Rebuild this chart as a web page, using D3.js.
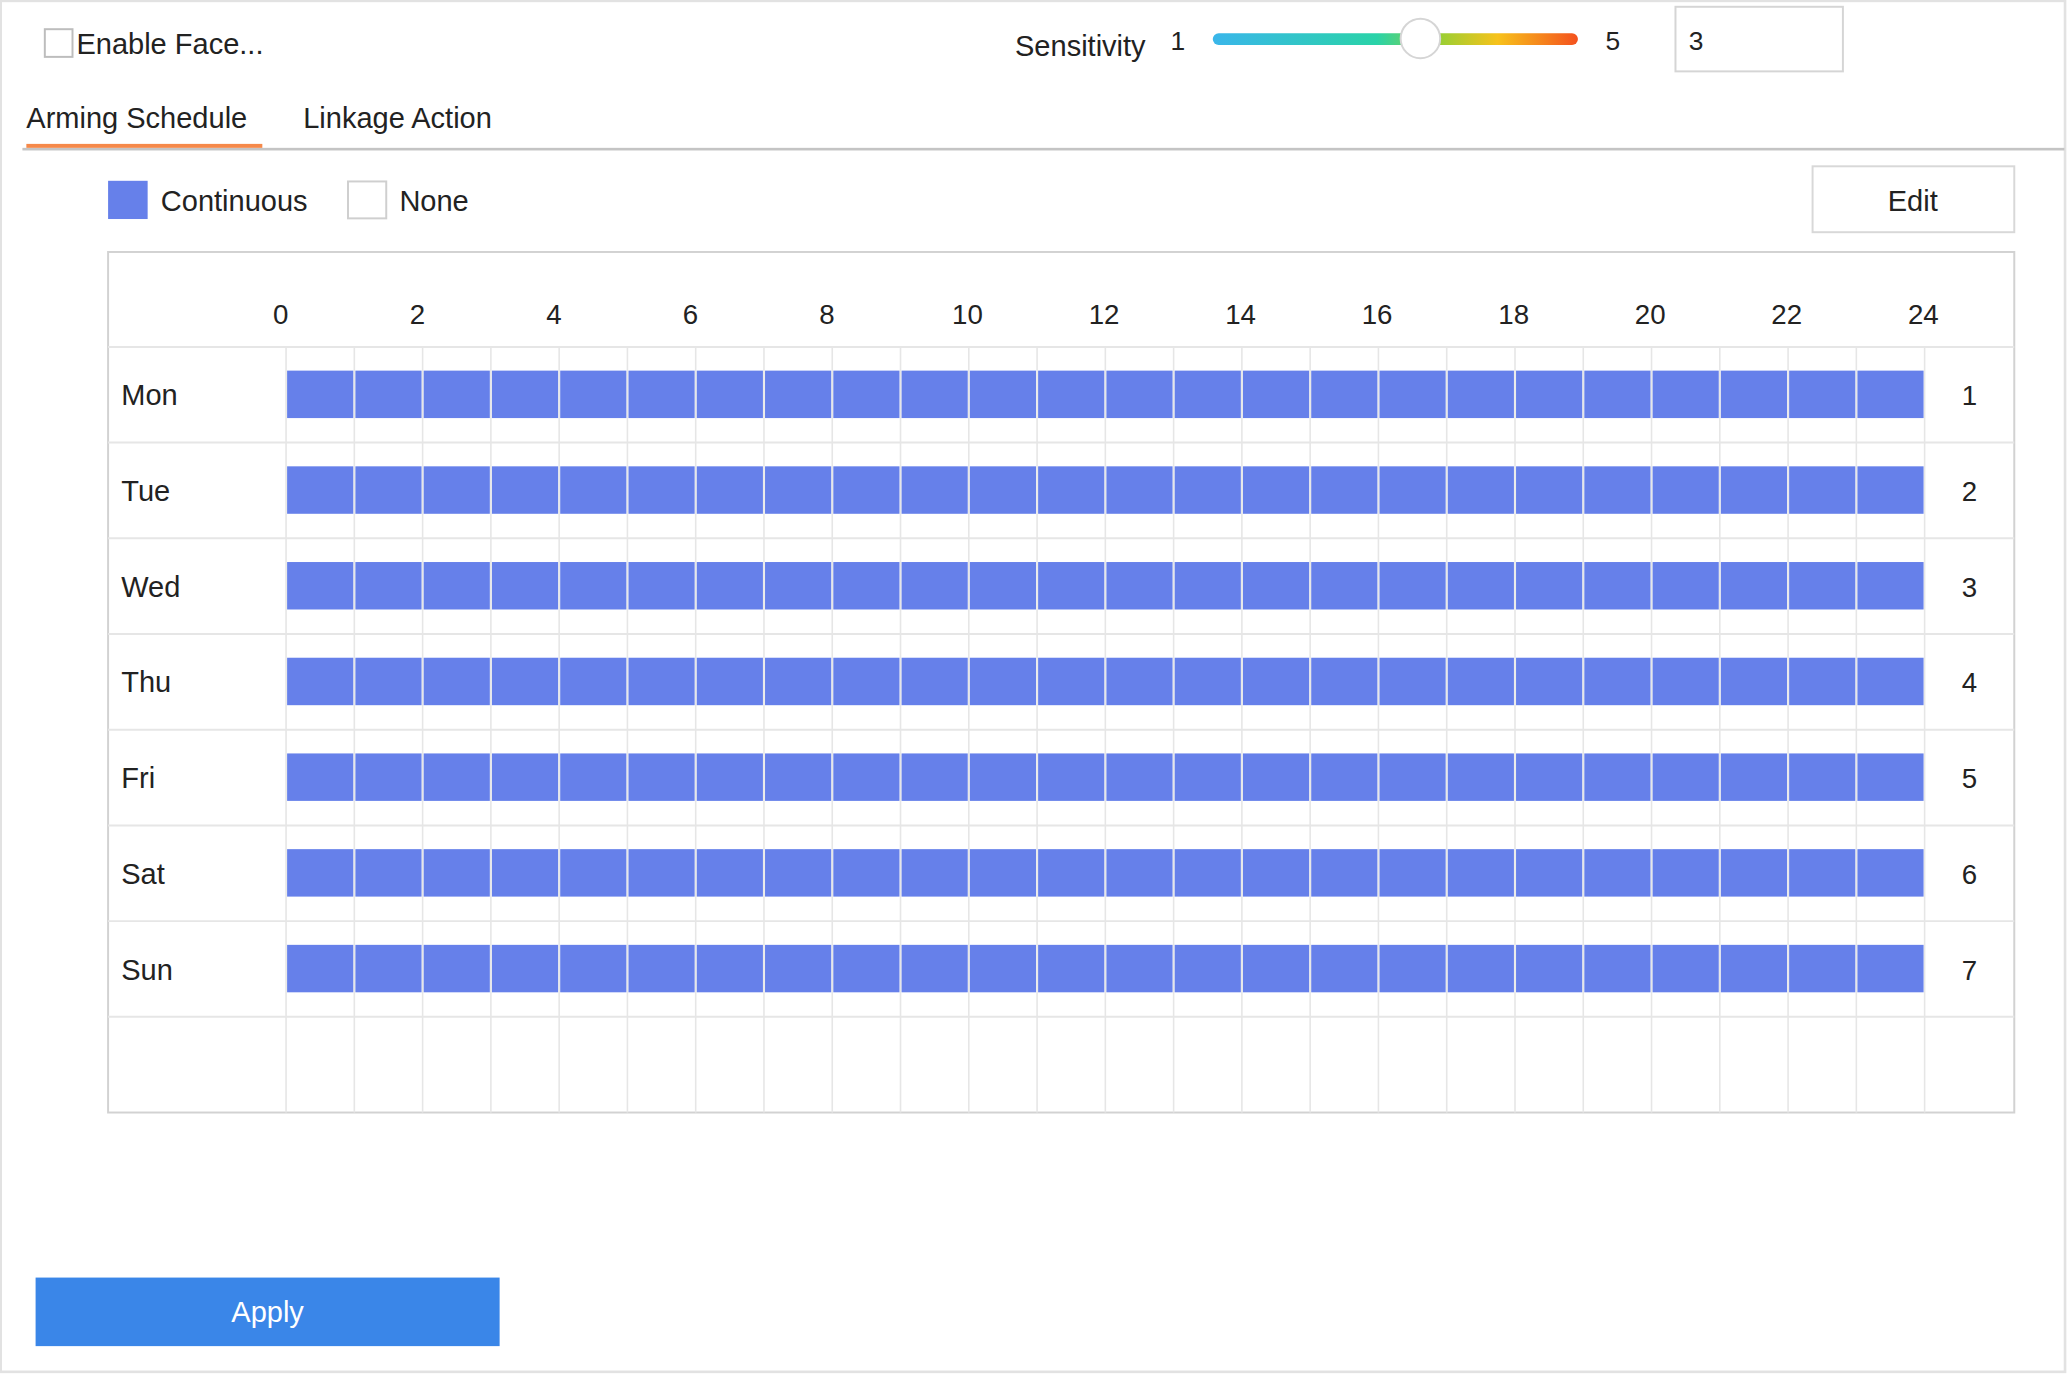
<!DOCTYPE html>
<html>
<head>
<meta charset="utf-8">
<script src="https://cdn.jsdelivr.net/npm/d3@7"></script>
<style>
  html, body { margin: 0; padding: 0; background: #fff; }
  svg { display: block; font-family: "Liberation Sans", Arial, sans-serif; }
</style>
</head>
<body>
<svg id="chart" width="2067" height="1374" viewBox="0 0 1568 1042"></svg>
<script>
// schedule data
const days = ["Mon", "Tue", "Wed", "Thu", "Fri", "Sat", "Sun"];
const rowNumbers = [1, 2, 3, 4, 5, 6, 7];
const hourTicks = [0, 2, 4, 6, 8, 10, 12, 14, 16, 18, 20, 22, 24];
// continuous recording segments per day [startHour, endHour]
const segments = [
  [[0, 24]], [[0, 24]], [[0, 24]], [[0, 24]], [[0, 24]], [[0, 24]], [[0, 24]]
];
const sensitivity = 3;
const sensMin = 1, sensMax = 5;

const blue = "#6680ea";
const svg = d3.select("#chart");

// frame
svg.append("rect").attr("x", 0.5).attr("y", 0.5).attr("width", 1566).attr("height", 1040)
  .attr("fill", "#fff").attr("stroke", "#e2e2e2").attr("stroke-width", 2);

// header: enable checkbox
svg.append("rect").attr("x", 34).attr("y", 22).attr("width", 21).attr("height", 21)
  .attr("fill", "#fff").attr("stroke", "#bdbdbd").attr("stroke-width", 1.5);
svg.append("text").attr("x", 58).attr("y", 41).attr("font-size", 22).attr("fill", "#222").text("Enable Face...");

// sensitivity slider
svg.append("text").attr("x", 770).attr("y", 42).attr("font-size", 22).attr("fill", "#222").text("Sensitivity");
svg.append("text").attr("x", 888).attr("y", 38).attr("font-size", 20).attr("fill", "#222").text(sensMin);
svg.append("text").attr("x", 1218).attr("y", 38).attr("font-size", 20).attr("fill", "#222").text(sensMax);

const defs = svg.append("defs");
const grad = defs.append("linearGradient").attr("id", "sens");
[["0%", "#3ab6ea"], ["45%", "#2ad3a8"], ["62%", "#98cf34"], ["78%", "#f7c21b"], ["100%", "#f4511e"]]
  .forEach(([o, c]) => grad.append("stop").attr("offset", o).attr("stop-color", c));
const sx = d3.scaleLinear().domain([sensMin, sensMax]).range([920, 1197]);
svg.append("rect").attr("x", sx(sensMin)).attr("y", 25).attr("width", sx(sensMax) - sx(sensMin)).attr("height", 9)
  .attr("rx", 4.5).attr("fill", "url(#sens)");
svg.append("circle").attr("cx", sx(sensitivity) + 19).attr("cy", 29).attr("r", 15)
  .attr("fill", "#fff").attr("stroke", "#d5d5d5").attr("stroke-width", 1.5);
svg.append("rect").attr("x", 1271).attr("y", 5).attr("width", 127).attr("height", 49)
  .attr("fill", "#fff").attr("stroke", "#d5d5d5").attr("stroke-width", 1.5);
svg.append("text").attr("x", 1281).attr("y", 38).attr("font-size", 20).attr("fill", "#222").text(sensitivity);

// tabs
svg.append("text").attr("x", 20).attr("y", 97).attr("font-size", 22).attr("fill", "#222").text("Arming Schedule");
svg.append("text").attr("x", 230).attr("y", 97).attr("font-size", 22).attr("fill", "#222").text("Linkage Action");
svg.append("rect").attr("x", 17).attr("y", 112).attr("width", 1549).attr("height", 2).attr("fill", "#c4c4c4");
svg.append("rect").attr("x", 20).attr("y", 109).attr("width", 179).attr("height", 3).attr("fill", "#f5894a");

// legend
svg.append("rect").attr("x", 82).attr("y", 137).attr("width", 30).attr("height", 29).attr("fill", blue);
svg.append("text").attr("x", 122).attr("y", 160).attr("font-size", 22).attr("fill", "#222").text("Continuous");
svg.append("rect").attr("x", 264).attr("y", 137.5).attr("width", 29).attr("height", 28)
  .attr("fill", "#fff").attr("stroke", "#cfcfcf").attr("stroke-width", 1.5);
svg.append("text").attr("x", 303).attr("y", 160).attr("font-size", 22).attr("fill", "#222").text("None");

// edit button
svg.append("rect").attr("x", 1375).attr("y", 126).attr("width", 153).attr("height", 50)
  .attr("fill", "#fff").attr("stroke", "#d8d8d8").attr("stroke-width", 1.5);
svg.append("text").attr("x", 1451).attr("y", 160).attr("text-anchor", "middle").attr("font-size", 22).attr("fill", "#222").text("Edit");

// schedule grid
const gridTop = 263, rowH = 72.6, gridBottom = gridTop + rowH * 8;
const x = d3.scaleLinear().domain([0, 24]).range([217, 1460]);
const y = d3.scaleBand().domain(days).range([gridTop, gridTop + rowH * 7]);

svg.append("rect").attr("x", 82).attr("y", 191).attr("width", 1446).attr("height", gridBottom - 191)
  .attr("fill", "#fff").attr("stroke", "#d2d2d2").attr("stroke-width", 1.5);

const grid = svg.append("g");
grid.selectAll("line.v").data(d3.range(0, 25)).join("line")
  .attr("x1", d => x(d)).attr("x2", d => x(d))
  .attr("y1", gridTop).attr("y2", gridBottom)
  .attr("stroke", "#e6e6e6").attr("stroke-width", 1.2);
grid.selectAll("line.h").data(d3.range(0, 8)).join("line")
  .attr("x1", 82).attr("x2", 1528)
  .attr("y1", d => gridTop + d * rowH).attr("y2", d => gridTop + d * rowH)
  .attr("stroke", "#e6e6e6").attr("stroke-width", 1.5);

// hour labels
svg.append("g").selectAll("text").data(hourTicks).join("text")
  .attr("x", d => x(d) - (d < 10 ? 4 : 1)).attr("y", 246)
  .attr("text-anchor", "middle").attr("font-size", 21).attr("fill", "#222").text(d => d);

// bars: one cell per scheduled hour
const cells = [];
days.forEach((day, i) => {
  segments[i].forEach(([s, e]) => {
    d3.range(s, e).forEach(h => cells.push({ day, h }));
  });
});
svg.append("g").selectAll("rect").data(cells).join("rect")
  .attr("x", d => x(d.h) + 0.8).attr("width", d => x(d.h + 1) - x(d.h) - 1.6)
  .attr("y", d => y(d.day) + 18).attr("height", 36)
  .attr("fill", blue);

// day labels and row numbers
svg.append("g").selectAll("text").data(days).join("text")
  .attr("x", 92).attr("y", d => y(d) + y.bandwidth() / 2 + 8)
  .attr("font-size", 22).attr("fill", "#222").text(d => d);
svg.append("g").selectAll("text").data(rowNumbers).join("text")
  .attr("x", 1494).attr("y", (d, i) => y(days[i]) + y.bandwidth() / 2 + 8)
  .attr("text-anchor", "middle").attr("font-size", 21).attr("fill", "#222").text(d => d);

// apply button
svg.append("rect").attr("x", 27).attr("y", 969).attr("width", 352).attr("height", 52).attr("fill", "#3a86e8");
svg.append("text").attr("x", 203).attr("y", 1003).attr("text-anchor", "middle").attr("font-size", 22).attr("fill", "#fff").text("Apply");
</script>
</body>
</html>
